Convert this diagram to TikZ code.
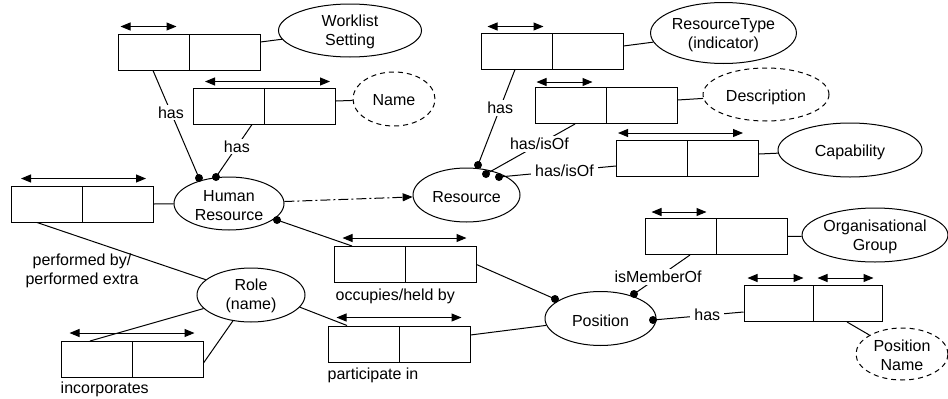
\documentclass[tikz,border=0pt]{standalone}
\usepackage{fontspec}
\setmainfont{Liberation Sans}
\usetikzlibrary{shapes.geometric,arrows.meta,calc}
% gives a line of entity text extra height, so that it sits lower in its ellipse
\newcommand\lowr[2][2.5pt]{\raisebox{0pt}[\dimexpr\height+#1+#1\relax]{#2}}
\begin{document}
\begin{tikzpicture}[x=1pt,y=-1pt,
  every node/.style={font=\fontsize{16}{19}\selectfont},
  ent/.style={draw, ellipse, line width=1pt, inner sep=0pt, align=center},
  opt/.style={ent, dash pattern=on 5pt off 4pt},
  tbl/.style={draw, rectangle, line width=1pt, minimum width=142pt, minimum height=36pt, inner sep=0pt,
    path picture={\draw[line width=1pt] (path picture bounding box.north) -- (path picture bounding box.south);}},
  rng/.style={line width=1pt, {Triangle[length=10pt,width=8pt]}-{Triangle[length=10pt,width=8pt]}},
  conn/.style={line width=1pt},
  knob/.style={circle, fill, inner sep=0pt, minimum size=8pt},
  lbl/.style={fill=white, inner xsep=4pt, inner ysep=2pt},
  note/.style={anchor=base west, inner sep=0pt},
]
\useasboundingbox (0,0) rectangle (948,399);

% entities
\node[ent, minimum width=143pt, minimum height=53pt] (wl) at (350,30.5) {\lowr[1.5pt]{Worklist}\\Setting};
\node[opt, minimum width=82pt, minimum height=54pt] (nm) at (394,99) {\lowr[1.5pt]{Name}};
\node[ent, minimum width=143pt, minimum height=61pt] (rt) at (723.5,33) {\lowr[2.5pt]{ResourceType}\\(indicator)};
\node[opt, minimum width=126pt, minimum height=53pt] (desc) at (766,94.5) {\lowr{Description}};
\node[ent, minimum width=144pt, minimum height=54pt] (cap) at (850,150) {\lowr{Capability}};
\node[ent, minimum width=110pt, minimum height=53pt] (hr) at (229,203.5) {\lowr{Human}\\Resource};
\node[ent, minimum width=107pt, minimum height=54pt] (res) at (466.5,195) {\lowr{Resource}};
\node[ent, minimum width=108pt, minimum height=54pt] (role) at (251,295) {\lowr[1pt]{Role}\\(name)};
\node[ent, minimum width=111pt, minimum height=54pt] (pos) at (600.5,318.5) {\lowr{Position}};
\node[ent, minimum width=144pt, minimum height=54pt] (og) at (875,235) {\lowr[1.5pt]{Organisational}\\Group};
\node[opt, minimum width=92pt, minimum height=52pt] (pn) at (902,354) {\lowr[1.5pt]{Position}\\Name};

% relation tables
\node[tbl] (twl) at (189,52) {};
\node[tbl] (tnm) at (264.5,106) {};
\node[tbl] (thr) at (82.5,204) {};
\node[tbl] (tocc) at (405,264.5) {};
\node[tbl] (tinc) at (132,359.5) {};
\node[tbl] (tpar) at (399,344) {};
\node[tbl] (trt) at (552,51) {};
\node[tbl] (tdesc) at (606,105.5) {};
\node[tbl] (tcap) at (687.5,158.5) {};
\node[tbl] (tog) at (716,236.5) {};
\node[tbl, minimum width=138pt] (tpn) at (813,303.5) {};

% uniqueness ranges
\draw[rng] ([shift={(3pt,7pt)}]twl.north west) -- ++(56,0);
\draw[rng] ([shift={(12pt,6pt)}]tnm.north west) -- ++(125,0);
\draw[rng] ([shift={(10pt,7pt)}]thr.north west) -- ++(125,0);
\draw[rng] ([shift={(9pt,8pt)}]tocc.north west) -- ++(124,0);
\draw[rng] ([shift={(9pt,8pt)}]tinc.north west) -- ++(125,0);
\draw[rng] ([shift={(9pt,8pt)}]tpar.north west) -- ++(125,0);
\draw[rng] ([shift={(7pt,6pt)}]trt.north west) -- ++(56,0);
\draw[rng] ([shift={(2pt,5pt)}]tdesc.north west) -- ++(56,0);
\draw[rng] ([shift={(2pt,7pt)}]tcap.north west) -- ++(125,0);
\draw[rng] ([shift={(7pt,6pt)}]tog.north west) -- ++(55,0);
\draw[rng] ([shift={(4pt,7pt)}]tpn.north west) -- ++(56,0);
\draw[rng] ([shift={(74pt,7pt)}]tpn.north west) -- ++(56,0);

% mandatory role dots
\node[knob] (hd1) at (199,178) {};
\node[knob] (hd2) at (216,177) {};
\node[knob] (hd3) at (277,220) {};
\node[knob] (rd1) at (478,165) {};
\node[knob] (rd2) at (486,174) {};
\node[knob] (rd3) at (499,177) {};
\node[knob] (pd1) at (555,299) {};
\node[knob] (pd2) at (634,294) {};
\node[knob] (pd3) at (653,320) {};

% tables to value types
\draw[conn] ([yshift=10pt]twl.east) -- (wl);
\draw[conn] ([yshift=5pt]tnm.east) -- (nm);
\draw[conn] ([yshift=5pt]trt.east) -- (rt);
\draw[conn] ([yshift=5.5pt]tdesc.east) -- (desc);
\draw[conn] ([yshift=4.5pt]tcap.east) -- (cap);
\draw[conn] (tog.east) -- (og);
\draw[conn] (thr.east) -- (hr);
\draw[conn] ([xshift=34pt]tpn.south) -- (pn);

% labelled roles
\draw[conn] ([xshift=-36pt]twl.south) -- node[lbl,pos=0.39]{has} (hd1.center);
\draw[conn] ([xshift=-12.5pt]tnm.south) -- node[lbl,pos=0.42]{has} (hd2.center);
\draw[conn] ([xshift=-37pt]trt.south) -- node[lbl,pos=0.4]{has} (rd1.center);
\draw[conn] ([xshift=-31pt]tdesc.south) -- node[lbl,pos=0.4]{has/isOf} (rd2.center);
\draw[conn] ([yshift=-7.5pt]tcap.west) -- node[lbl,pos=0.44]{has/isOf} (rd3.center);
\draw[conn] ([xshift=-26pt]tog.south) -- node[lbl,pos=0.57]{isMemberOf} (pd2.center);
\draw[conn] (pd3.center) -- node[lbl,pos=0.6]{has} ([yshift=-8.5pt]tpn.west);

% human resource / position / role links
\draw[conn] (hd3.center) -- ([xshift=-53pt]tocc.north);
\draw[conn] (tocc.east) -- (pd1.center);
\draw[conn] ([xshift=-45.5pt]thr.south) -- (role);
\draw[conn] ([xshift=-42pt]tinc.north) -- (role);
\draw[conn] ([yshift=-3.5pt]tinc.east) -- (role);
\draw[conn] (role.-14) -- ([xshift=-52pt]tpar.north);
\draw[conn] ([yshift=9pt]tpar.east) -- (pos);
\draw[conn, dash pattern=on 10pt off 3pt on 2pt off 3pt, -{Triangle[length=10pt,width=8pt]}] (hr) -- (res);

% fact type readings
\node[align=center] (perf) at (82,271) {performed by/\\performed extra};
\node[note] (occl) at ([shift={(2pt,-17pt)}]tocc.south west) {occupies/held by};
\node[note] (parl) at ([shift={(0pt,-17pt)}]tpar.south west) {participate in};
\node[note] (incl) at ([shift={(0pt,-15pt)}]tinc.south west) {incorporates};
\end{tikzpicture}
\end{document}
